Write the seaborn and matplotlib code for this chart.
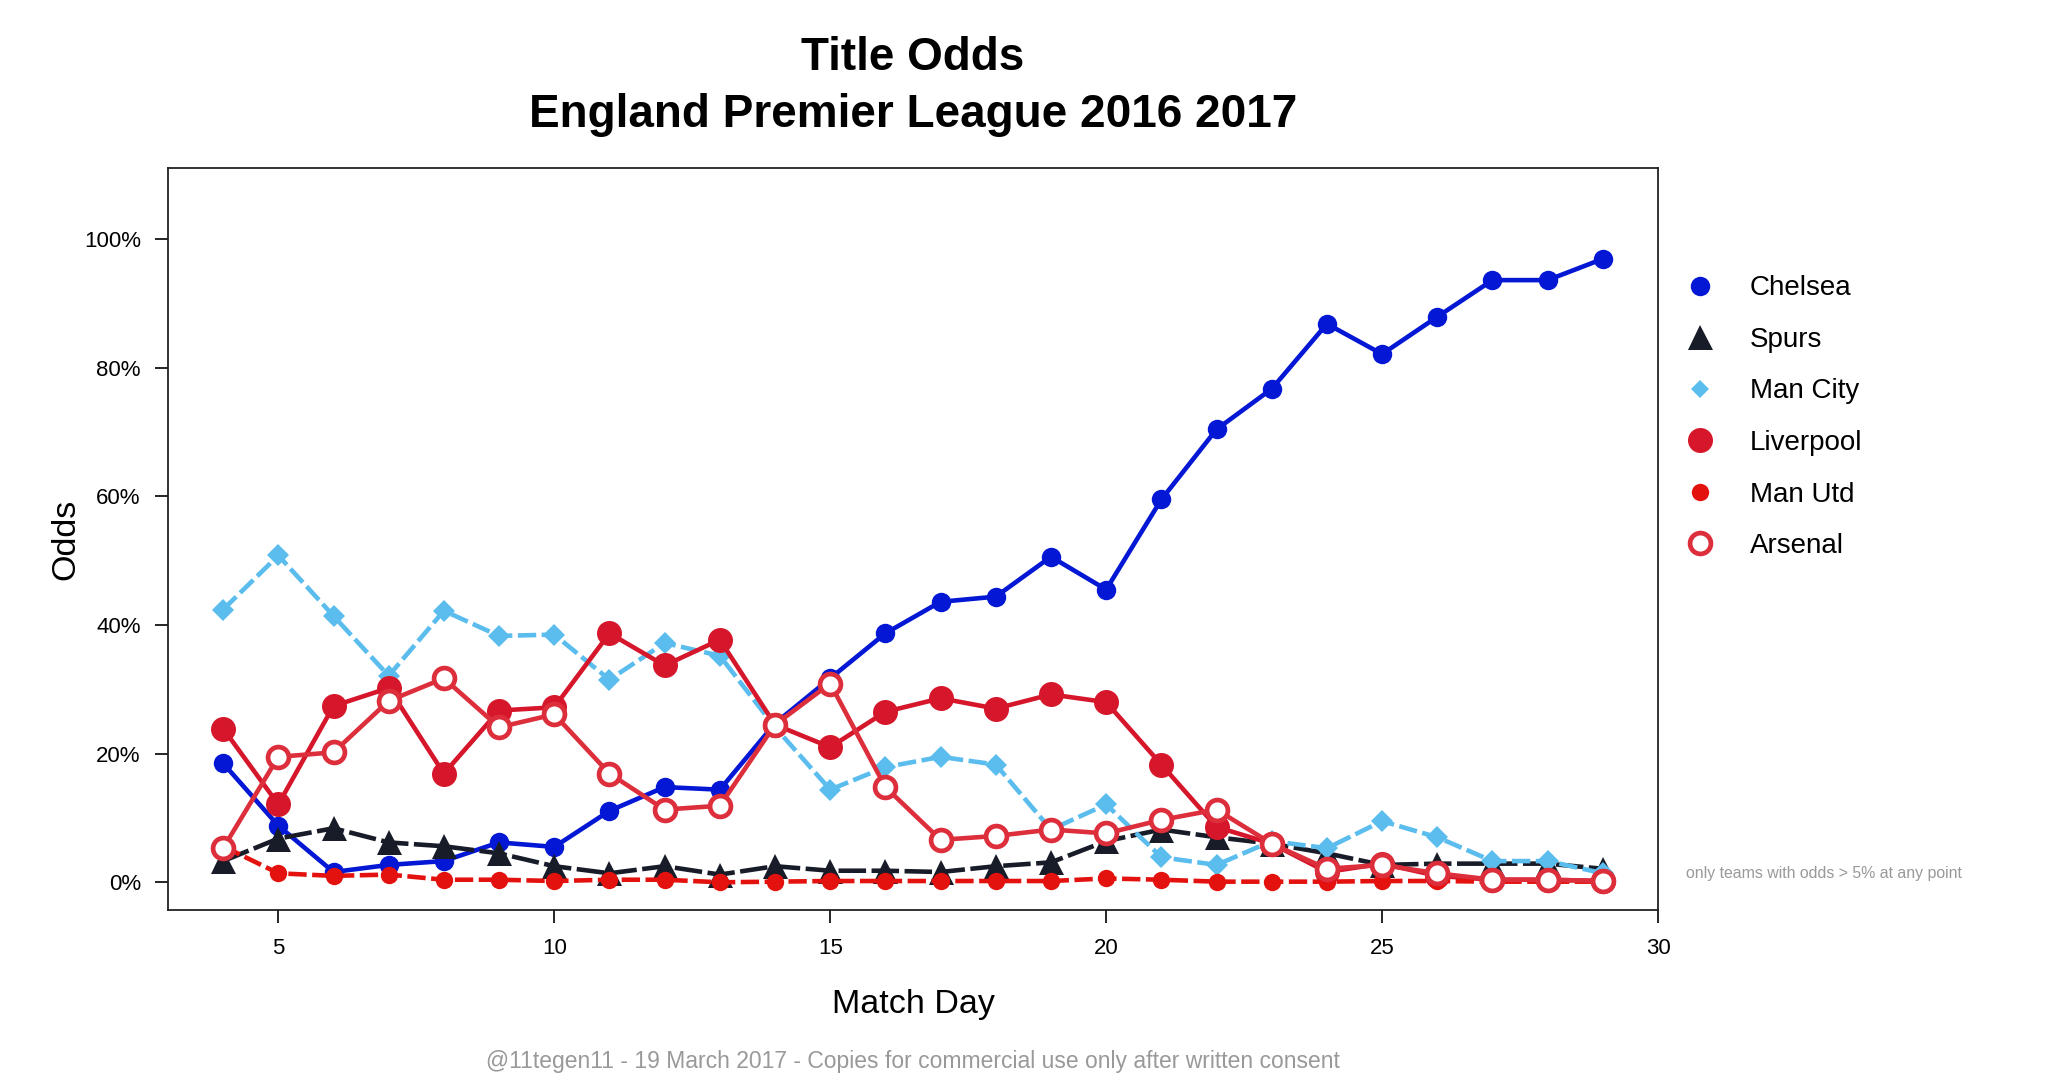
import numpy as np
import pandas as pd
import seaborn as sns
import matplotlib as mpl
mpl.use("Agg")
import matplotlib.pyplot as plt
from matplotlib.lines import Line2D
from matplotlib.ticker import PercentFormatter

# match days and title odds (in %)
match_day = list(range(4, 30))
chelsea = [18.5, 8.8, 1.6, 2.7, 3.3, 6.2, 5.5, 11.1, 14.8, 14.4, 24.7, 31.7, 38.7,
           43.6, 44.4, 50.6, 45.5, 59.5, 70.4, 76.7, 86.8, 82.1, 87.9, 93.6, 93.6, 96.9]
spurs = [3.3, 6.8, 8.4, 6.2, 5.6, 4.5, 2.5, 1.4, 2.5, 1.2, 2.5, 1.8, 1.8,
         1.6, 2.5, 3.1, 6.4, 8.2, 7.0, 6.0, 4.5, 2.7, 2.9, 2.9, 2.9, 2.1]
man_city = [42.4, 50.8, 41.4, 32.1, 42.2, 38.3, 38.5, 31.5, 37.2, 35.2, 24.1, 14.4, 17.9,
            19.5, 18.3, 8.2, 12.1, 3.9, 2.7, 6.4, 5.3, 9.5, 7.0, 3.3, 3.3, 1.4]
liverpool = [23.9, 12.1, 27.4, 30.2, 16.9, 26.7, 27.2, 38.7, 33.7, 37.7, 24.5, 21.0, 26.5,
             28.6, 27.0, 29.2, 28.0, 18.3, 8.6, 6.0, 1.6, 2.9, 1.0, 0.4, 0.4, 0.2]
man_utd = [5.6, 1.4, 1.0, 1.2, 0.4, 0.4, 0.2, 0.4, 0.4, 0.0, 0.1, 0.2, 0.2,
           0.2, 0.2, 0.2, 0.6, 0.4, 0.1, 0.1, 0.1, 0.2, 0.2, 0.1, 0.1, 0.1]
arsenal = [5.3, 19.5, 20.2, 28.2, 31.7, 24.1, 26.1, 16.9, 11.3, 11.9, 24.5, 30.9, 14.8,
           6.6, 7.2, 8.2, 7.6, 9.7, 11.3, 6.0, 2.1, 2.7, 1.4, 0.4, 0.4, 0.2]

teams = ["Chelsea", "Spurs", "Man City", "Liverpool", "Man Utd", "Arsenal"]
values = [chelsea, spurs, man_city, liverpool, man_utd, arsenal]

df = pd.DataFrame({
    "team": np.repeat(teams, len(match_day)),
    "day": match_day * len(teams),
    "odds": np.concatenate(values) / 100.0,
})

# look of each team
styles = {
    "Chelsea":   dict(color="#0317D4", marker="o", markersize=14, linestyle="-",
                      markerfacecolor="#0317D4", markeredgecolor="#0317D4", markeredgewidth=0),
    "Spurs":     dict(color="#181C28", marker="^", markersize=18, linestyle=(0, (6, 1.2)),
                      markerfacecolor="#181C28", markeredgecolor="#181C28", markeredgewidth=0),
    "Man City":  dict(color="#5BBDEE", marker="D", markersize=11, linestyle=(0, (4, 1.2)),
                      markerfacecolor="#5BBDEE", markeredgecolor="#5BBDEE", markeredgewidth=0),
    "Liverpool": dict(color="#D6172B", marker="o", markersize=18, linestyle="-",
                      markerfacecolor="#D6172B", markeredgecolor="#D6172B", markeredgewidth=0),
    "Man Utd":   dict(color="#E4120E", marker="o", markersize=12.5, linestyle=(0, (4, 1.2)),
                      markerfacecolor="#E4120E", markeredgecolor="#E4120E", markeredgewidth=0),
    "Arsenal":   dict(color="#DD2E3C", marker="o", markersize=15, linestyle="-",
                      markerfacecolor="white", markeredgecolor="#DD2E3C", markeredgewidth=3.4),
}

sns.set_style("white")
plt.rcParams['font.family'] = ['Liberation Sans', 'DejaVu Sans']
plt.rcParams['text.color'] = 'black'
plt.rcParams['axes.labelcolor'] = 'black'
plt.rcParams['xtick.color'] = 'black'
plt.rcParams['ytick.color'] = 'black'

fig = plt.figure(figsize=(20.48, 10.92), dpi=100)
ax = fig.add_axes([0.082, 0.1667, 0.7276, 0.6793])

for team in teams:
    sub = df[df["team"] == team]
    sns.lineplot(data=sub, x="day", y="odds", ax=ax, linewidth=3.3, **styles[team])

ax.set_xlim(3, 30)
ax.set_ylim(-0.043, 1.11)
ax.set_xticks([5, 10, 15, 20, 25, 30])
ax.set_yticks([0, 0.2, 0.4, 0.6, 0.8, 1.0])
ax.yaxis.set_major_formatter(PercentFormatter(1.0, decimals=0))
ax.tick_params(axis="both", direction="out", length=9.5, width=1.2, labelsize=16,
               left=True, bottom=True, colors="black")
ax.tick_params(axis="x", pad=11)
ax.tick_params(axis="y", pad=10)
for s in ax.spines.values():
    s.set_color("#222222")
    s.set_linewidth(1.3)

ax.set_xlabel("Match Day", fontsize=24.5, labelpad=21)
ax.set_ylabel("Odds", fontsize=24.5, labelpad=2)

fig.text(0.4458, 0.947, "Title Odds", ha="center", va="center", fontsize=33, fontweight="bold")
fig.text(0.4458, 0.895, "England Premier League 2016 2017", ha="center", va="center",
         fontsize=33, fontweight="bold")

# legend with markers only
handles = []
for team in teams:
    st = styles[team]
    handles.append(Line2D([], [], linestyle="none", marker=st["marker"],
                          markersize=st["markersize"] * (0.85 if team == "Man City" else 1.0),
                          markerfacecolor=st["markerfacecolor"],
                          markeredgecolor=st["markeredgecolor"],
                          markeredgewidth=st["markeredgewidth"]))
fig.legend(handles, teams, loc="upper left", bbox_to_anchor=(0.811, 0.758), frameon=False,
           fontsize=20, handletextpad=0.8, labelspacing=0.92, borderaxespad=0)

fig.text(0.823, 0.2005, "only teams with odds > 5% at any point", ha="left", va="center",
         fontsize=11.4, color="#999999")
fig.text(0.4458, 0.028, "@11tegen11 - 19 March 2017 - Copies for commercial use only after written consent",
         ha="center", va="center", fontsize=16.5, color="#999999")

fig.savefig("out.png", dpi=100)
